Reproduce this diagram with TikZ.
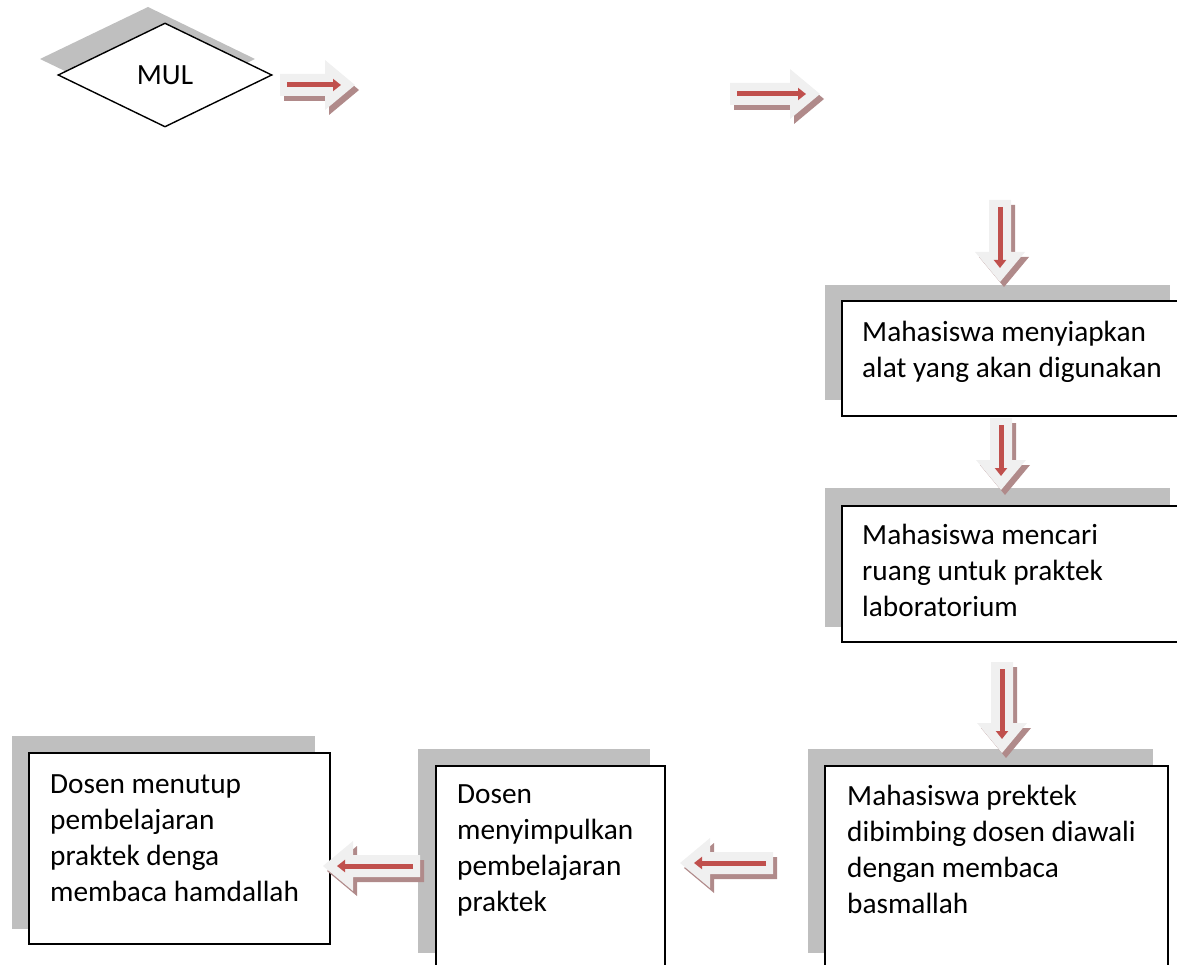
\documentclass[tikz,border=0pt]{standalone}
\usepackage{fontspec}
\setmainfont{Carlito}
\usetikzlibrary{arrows.meta,shapes.geometric}
\definecolor{shadowgray}{HTML}{BFBFBF}
\definecolor{arrowlight}{HTML}{F0F0F0}
\definecolor{arrowred}{HTML}{C0504D}
\definecolor{arrowshade}{RGB}{176,138,138}

% block arrow: #1 tail coordinate, #2 direction angle, #3 length
\newcommand\blockarrow[3]{%
  \begin{scope}[shift={(#1)},xshift=4pt,yshift=-5pt,rotate=#2]
    \fill[arrowshade] (0,-11) -- ({#3-30},-11) -- ({#3-30},-25) -- (#3,0) -- ({#3-30},25) -- ({#3-30},11) -- (0,11) -- cycle;
  \end{scope}
  \begin{scope}[shift={(#1)},rotate=#2]
    \fill[arrowlight] (0,-11) -- ({#3-30},-11) -- ({#3-30},-25) -- (#3,0) -- ({#3-30},25) -- ({#3-30},11) -- (0,11) -- cycle;
    \draw[arrowred,line width=5pt,-{Triangle[length=8pt,width=12pt]}] (7,0) -- ({#3-14},0);
  \end{scope}}

\begin{document}
\begin{tikzpicture}[x=1pt,y=-1pt,
  txt/.style={anchor=north west,inner sep=0pt,align=left,font=\fontsize{29.3}{36}\selectfont},
  box/.style={draw=black,fill=white,line width=1.4pt}]
\useasboundingbox (0,0) rectangle (1177,965);
\clip (0,0) rectangle (1177,965);

% diamond
\fill[shadowgray] (40,59) -- (148,7) -- (255,59) -- (148,111) -- cycle;
\node[diamond,draw=black,fill=white,line width=1.4pt,minimum width=214pt,minimum height=104pt,inner sep=0pt,
      font=\fontsize{29.3}{36}\selectfont] (mul) at (165,75) {\raisebox{-3pt}{MUL}};

% box 1
\fill[shadowgray] (825,285) rectangle (1170,400);
\draw[box] (842,301) rectangle (1190,416);
\coordinate (b1) at (842,301);
\node[txt] (t1) at (862,315.8) {\strut Mahasiswa menyiapkan\\alat yang akan digunakan};

% box 2
\fill[shadowgray] (825,488) rectangle (1170,627);
\draw[box] (842,506) rectangle (1190,642);
\coordinate (b2) at (842,506);
\node[txt] (t2) at (862,518.8) {\strut Mahasiswa mencari\\ruang untuk praktek\\laboratorium};

% box 3
\fill[shadowgray] (808,749) rectangle (1153,953);
\draw[box] (825,766) rectangle (1168,990);
\coordinate (b3) at (825,766);
\node[txt] (t3) at (847,779.8) {\strut Mahasiswa prektek\\dibimbing dosen diawali\\dengan membaca\\basmallah};

% box 4
\fill[shadowgray] (418,749) rectangle (650,953);
\draw[box] (436,766) rectangle (665,990);
\coordinate (b4) at (436,766);
\node[txt] (t4) at (457,777.8) {\strut Dosen\\menyimpulkan\\pembelajaran\\praktek};

% box 5
\fill[shadowgray] (12,736) rectangle (315,929);
\draw[box] (29,753) rectangle (330,944);
\coordinate (b5) at (29,753);
\node[txt] (t5) at (50,767.8) {\strut Dosen menutup\\pembelajaran\\praktek denga\\membaca hamdallah};

% arrow tails
\coordinate (a1) at (280,85);
\coordinate (a2) at (730,94);
\coordinate (a3) at (1000,200);
\coordinate (a4) at (1001,418);
\coordinate (a5) at (1002,662);
\coordinate (a6) at (773,863);
\coordinate (a7) at (420,866);

\blockarrow{a1}{0}{75}
\blockarrow{a2}{0}{90}
\blockarrow{a3}{-90}{82}
\blockarrow{a4}{-90}{72}
\blockarrow{a5}{-90}{91}
\blockarrow{a6}{180}{93}
\blockarrow{a7}{180}{97}
\end{tikzpicture}
\end{document}
